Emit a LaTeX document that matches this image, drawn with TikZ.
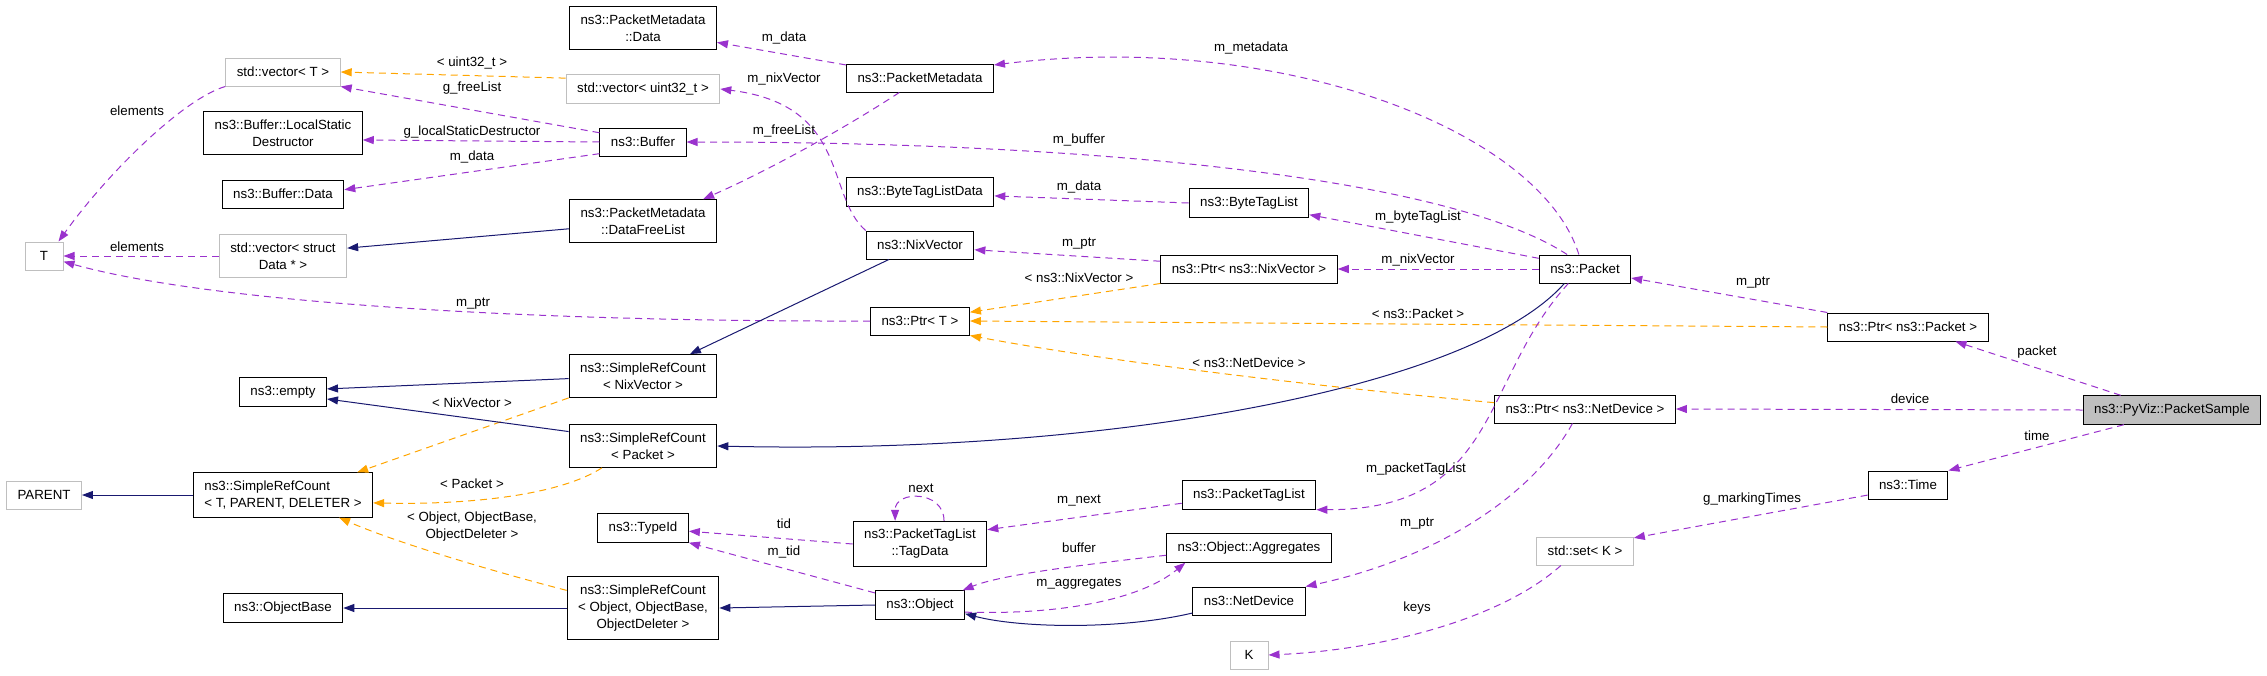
\documentclass[tikz,border=0pt]{standalone}
\usepackage{fontspec}
\setmainfont{Liberation Sans}
\usetikzlibrary{arrows.meta}
\definecolor{usecol}{HTML}{9A32CD}
\definecolor{instcol}{HTML}{FFA500}
\definecolor{inhcol}{HTML}{191970}
\definecolor{undocgray}{HTML}{BFBFBF}
\tikzset{
  cls/.style={draw=black, line width=1pt, fill=white, minimum width=38pt, minimum height=28pt,
    inner xsep=11pt, inner ysep=8pt, align=center, font=\fontsize{13.3}{17}\selectfont},
  undoc/.style={cls, draw=undocgray},
  lbl/.style={text=black, font=\fontsize{13.3}{17}\selectfont, align=center, inner sep=1pt},
  usage/.style={usecol, line width=1pt, dash pattern=on 7pt off 5pt, -{Triangle[length=11pt,width=8pt]}},
  templ/.style={usage, instcol},
  inherit/.style={inhcol, line width=1pt, -{Triangle[length=11pt,width=8pt]}},
}
\begin{document}
\begin{tikzpicture}[x=1pt, y=-1pt]
    \useasboundingbox (0,0) rectangle (2267,675);
    \node[undoc] (T) at (44,256) {T};
    \node[undoc] (vecT) at (283,72) {std::vector< T >};
    \node[cls] (lsd) at (283,133) {ns3::Buffer::LocalStatic\\Destructor};
    \node[cls] (bufdata) at (283,194) {ns3::Buffer::Data};
    \node[undoc] (vecdata) at (283,256) {std::vector< struct\\Data * >};
    \node[cls] (empty) at (283,392) {ns3::empty};
    \node[undoc] (parent) at (44,495) {PARENT};
    \node[cls, align=left] (srcT) at (283,495) {ns3::SimpleRefCount\\< T, PARENT, DELETER >};
    \node[cls] (objbase) at (283,608) {ns3::ObjectBase};
    \node[cls] (pmdata) at (643,28) {ns3::PacketMetadata\\::Data};
    \node[undoc] (vecuint) at (643,89) {std::vector< uint32\_t >};
    \node[cls] (buffer) at (643,142) {ns3::Buffer};
    \node[cls] (freelist) at (643,221) {ns3::PacketMetadata\\::DataFreeList};
    \node[cls] (srcnix) at (643,376) {ns3::SimpleRefCount\\< NixVector >};
    \node[cls] (srcpkt) at (643,446) {ns3::SimpleRefCount\\< Packet >};
    \node[cls] (typeid) at (643,528) {ns3::TypeId};
    \node[cls] (srcobj) at (643,608) {ns3::SimpleRefCount\\< Object, ObjectBase,\\ObjectDeleter >};
    \node[cls] (metadata) at (920,78) {ns3::PacketMetadata};
    \node[cls] (btldata) at (920,192) {ns3::ByteTagListData};
    \node[cls] (nixvec) at (920,245) {ns3::NixVector};
    \node[cls] (ptrT) at (920,321) {ns3::Ptr< T >};
    \node[cls] (tagdata) at (920,544) {ns3::PacketTagList\\::TagData};
    \node[cls] (object) at (920,605) {ns3::Object};
    \node[cls] (btl) at (1249,203) {ns3::ByteTagList};
    \node[cls] (ptrnix) at (1249,269) {ns3::Ptr< ns3::NixVector >};
    \node[cls] (ptl) at (1249,495) {ns3::PacketTagList};
    \node[cls] (aggr) at (1249,548) {ns3::Object::Aggregates};
    \node[cls] (netdev) at (1249,601) {ns3::NetDevice};
    \node[undoc] (K) at (1249,655) {K};
    \node[cls] (packet) at (1585,269) {ns3::Packet};
    \node[cls] (ptrnd) at (1585,409) {ns3::Ptr< ns3::NetDevice >};
    \node[undoc] (setK) at (1585,551) {std::set< K >};
    \node[cls] (ptrpkt) at (1908,327) {ns3::Ptr< ns3::Packet >};
    \node[cls] (time) at (1908,485) {ns3::Time};
    \node[cls, fill=undocgray] (sample) at (2172,410) {ns3::PyViz::PacketSample};
    \draw[usage] (vecT.south west) .. controls (185,98) and (110,170) .. (T.45) node[lbl] at (137,111) {elements};
    \draw[usage] (vecdata.west) -- (T.east) node[lbl] at (137,247) {elements};
    \draw[usage] (ptrT.west) .. controls (500,322) and (200,300) .. (T.-16) node[lbl] at (473,304) {m\_ptr};
    \draw[inherit] (srcT.west) -- (parent.east);
    \draw[templ] (srcnix.south west) -- (srcT.17) node[lbl] at (472,403) {< NixVector >};
    \draw[templ] (srcpkt.208) .. controls (560,495) and (470,505) .. (srcT.-5) node[lbl] at (472,484) {< Packet >};
    \draw[templ] (srcobj.167) .. controls (480,568) and (390,540) .. (srcT.-22) node[lbl] at (472,527) {< Object, ObjectBase,\\ObjectDeleter >};
    \draw[inherit] (srcnix.182) -- (empty.4);
    \draw[inherit] (srcpkt.169) -- (empty.-9);
    \draw[inherit] (srcobj.west) -- (objbase.east);
    \draw[templ] (vecuint.172) -- (vecT.east) node[lbl] at (472,63) {< uint32\_t >};
    \draw[usage] (buffer.168) -- (vecT.south east) node[lbl] at (472,88) {g\_freeList};
    \draw[usage] (buffer.west) -- (lsd.-5) node[lbl] at (472,132) {g\_localStaticDestructor};
    \draw[usage] (buffer.195) -- (bufdata.4) node[lbl] at (472,157) {m\_data};
    \draw[inherit] (freelist.186) -- (vecdata.7);
    \draw[usage] (metadata.170) -- (pmdata.-11) node[lbl] at (784,38) {m\_data};
    \draw[usage] (nixvec.north west) .. controls (825,195) and (850,105) .. (vecuint.east) node[lbl] at (784,79) {m\_nixVector};
    \draw[usage] (metadata.215) .. controls (850,125) and (770,170) .. (freelist.20) node[lbl] at (784,131) {m\_freeList};
    \draw[usage] (packet.141) .. controls (1450,178) and (1100,142) .. (buffer.east) node[lbl] at (1079,140) {m\_buffer};
    \draw[usage] (packet.113) .. controls (1540,130) and (1280,30) .. (metadata.10) node[lbl] at (1251,48) {m\_metadata};
    \draw[usage] (btl.west) -- (btldata.-3) node[lbl] at (1079,187) {m\_data};
    \draw[usage] (packet.167) -- (btl.-11) node[lbl] at (1418,217) {m\_byteTagList};
    \draw[usage] (ptrnix.175) -- (nixvec.-5) node[lbl] at (1079,244) {m\_ptr};
    \draw[usage] (packet.west) -- (ptrnix.east) node[lbl] at (1418,260) {m\_nixVector};
    \draw[templ] (ptrnix.south west) -- (ptrT.10) node[lbl] at (1079,278) {< ns3::NixVector >};
    \draw[templ] (ptrpkt.west) -- (ptrT.east) node[lbl] at (1418,314) {< ns3::Packet >};
    \draw[templ] (ptrnd.176) .. controls (1300,385) and (1100,360) .. (ptrT.south east) node[lbl] at (1249,363) {< ns3::NetDevice >};
    \draw[inherit] (nixvec.205) -- (srcnix.25);
    \draw[inherit] (packet.215) .. controls (1470,390) and (1100,455) .. (srcpkt.east);
    \draw[usage] (packet.221) .. controls (1480,380) and (1500,510) .. (ptl.south east) node[lbl] at (1416,469) {m\_packetTagList};
    \draw[usage] (ptl.187) -- (tagdata.12) node[lbl] at (1079,501) {m\_next};
    \draw[usage] (tagdata.44) .. controls (944,490) and (895,490) .. (tagdata.137) node[lbl] at (921,488) {next};
    \draw[usage] (tagdata.west) -- (typeid.-4) node[lbl] at (784,524) {tid};
    \draw[usage] (object.165) -- (typeid.south east) node[lbl] at (784,552) {m\_tid};
    \draw[inherit] (object.west) -- (srcobj.east);
    \draw[usage] (aggr.185) .. controls (1080,565) and (1000,575) .. (object.19) node[lbl] at (1079,548) {buffer};
    \draw[usage] (object.-9) .. controls (1060,615) and (1140,600) .. (aggr.193) node[lbl] at (1079,584) {m\_aggregates};
    \draw[inherit] (netdev.192) .. controls (1120,630) and (1020,628) .. (object.-11);
    \draw[usage] (ptrnd.229) .. controls (1530,500) and (1430,560) .. (netdev.north east) node[lbl] at (1417,524) {m\_ptr};
    \draw[usage] (setK.211) .. controls (1500,620) and (1380,650) .. (K.east) node[lbl] at (1417,608) {keys};
    \draw[usage] (time.194) -- (setK.15) node[lbl] at (1752,499) {g\_markingTimes};
    \draw[usage] (ptrpkt.north west) -- (packet.-11) node[lbl] at (1753,283) {m\_ptr};
    \draw[usage] (sample.164) -- (ptrpkt.-17) node[lbl] at (2037,352) {packet};
    \draw[usage] (sample.west) -- (ptrnd.east) node[lbl] at (1910,399) {device};
    \draw[usage] (sample.197) -- (time.north east) node[lbl] at (2037,436) {time};
\end{tikzpicture}
\end{document}
